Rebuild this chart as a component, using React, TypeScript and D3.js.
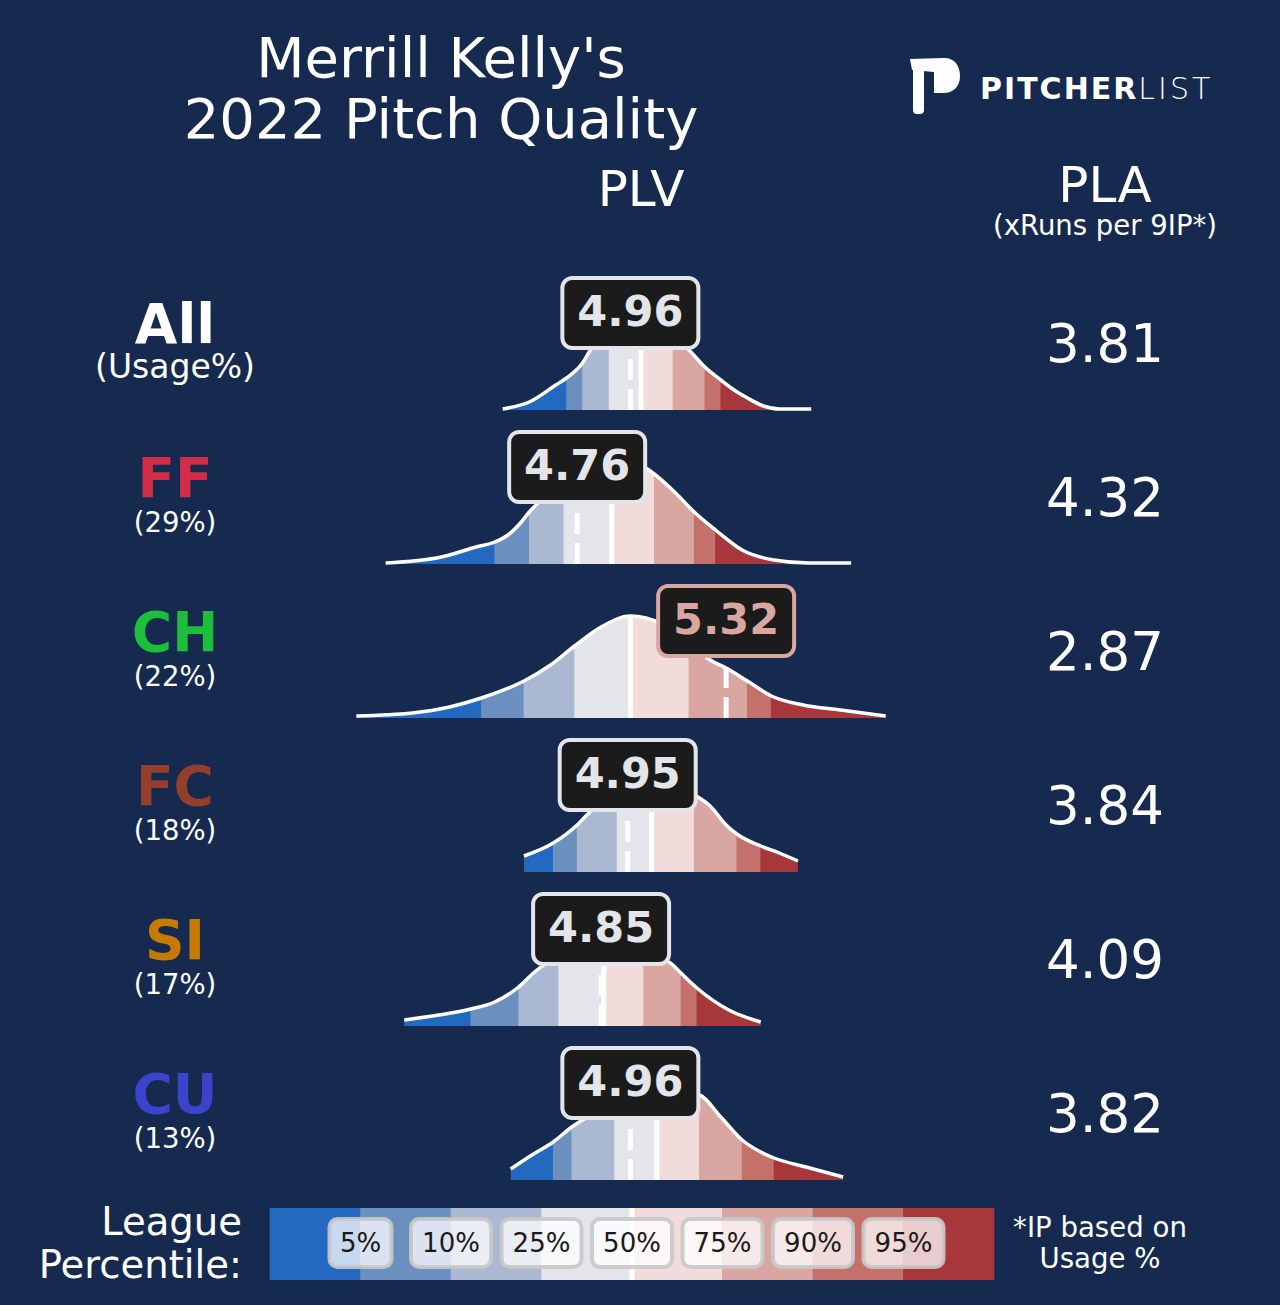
import { useRef, useEffect } from 'react';
import * as d3 from 'd3';

const WIDTH = 1280;
const HEIGHT = 1305;
const BG = '#162a4f';
const FONT = '"DejaVu Sans", Verdana, sans-serif';

const pitchTypes = ['All', 'FF', 'CH', 'FC', 'SI', 'CU'];
const usageLabels = ['(Usage%)', '(29%)', '(22%)', '(18%)', '(17%)', '(13%)'];
const pitchColors = ['#ffffff', '#d22d49', '#1dbe3a', '#933f2c', '#c57a02', '#3c44cd'];
const plvValues = [4.96, 4.76, 5.32, 4.95, 4.85, 4.96];
const plaValues = [3.81, 4.32, 2.87, 3.84, 4.09, 3.82];

const percentileLabels = ['5%', '10%', '25%', '50%', '75%', '90%', '95%'];
const bandColors = ['#2469c0', '#6b90c0', '#aab9d1', '#e4e5ea', '#f2dcdb', '#daa6a2', '#c4716c', '#a8373b'];

// league PLV at the 5/10/25/50/75/90/95th percentiles, per pitch type
const leaguePercentiles: number[][] = [
  [4.72, 4.78, 4.88, 5.0, 5.12, 5.24, 5.3],
  [4.45, 4.58, 4.71, 4.89, 5.05, 5.2, 5.28],
  [4.4, 4.56, 4.75, 4.96, 5.18, 5.4, 5.49],
  [4.67, 4.76, 4.91, 5.04, 5.2, 5.36, 5.45],
  [4.36, 4.54, 4.69, 4.86, 5.01, 5.15, 5.21],
  [4.67, 4.74, 4.9, 5.06, 5.22, 5.38, 5.5],
];

// league density, [PLV, relative height]
const densityAll = [[4.48, 1], [4.58, 8], [4.68, 25], [4.72, 32], [4.78, 47], [4.81, 60], [4.89, 76], [4.98, 84], [5.07, 78], [5.15, 67], [5.18, 60], [5.24, 43], [5.3, 30], [5.35, 20], [5.4, 12], [5.46, 4], [5.52, 1], [5.64, 1]];
const densityFF = [[4.04, 1], [4.25, 7], [4.38, 17], [4.45, 22], [4.5, 29], [4.55, 42], [4.58, 52], [4.62, 63], [4.7, 82], [4.79, 98], [4.88, 107], [4.97, 103], [5.04, 92], [5.13, 71], [5.2, 52], [5.28, 34], [5.38, 14], [5.5, 4], [5.63, 1], [5.79, 1]];
const densityCH = [[3.93, 2], [4.14, 5], [4.28, 11], [4.4, 20], [4.56, 37], [4.66, 53], [4.75, 72], [4.85, 91], [4.96, 102], [5.08, 94], [5.18, 76], [5.26, 58], [5.32, 50], [5.4, 37], [5.49, 22], [5.61, 13], [5.75, 8], [5.92, 2]];
const densityFC = [[4.56, 16], [4.67, 29], [4.76, 47], [4.8, 58], [4.88, 74], [4.98, 84], [5.07, 87], [5.17, 81], [5.22, 74], [5.26, 66], [5.32, 47], [5.36, 38], [5.45, 26], [5.52, 19], [5.59, 11]];
const densitySI = [[4.11, 6], [4.24, 11], [4.36, 17], [4.45, 24], [4.54, 39], [4.6, 54], [4.7, 72], [4.79, 83], [4.87, 86], [4.96, 82], [5.05, 72], [5.12, 61], [5.15, 53], [5.21, 38], [5.33, 16], [5.45, 4]];
const densityCU = [[4.51, 11], [4.59, 25], [4.67, 38], [4.74, 53], [4.78, 60], [4.87, 72], [4.96, 80], [5.05, 86], [5.15, 88], [5.22, 85], [5.3, 63], [5.38, 40], [5.45, 28], [5.5, 22], [5.62, 13], [5.76, 3]];
const densities = [densityAll, densityFF, densityCH, densityFC, densitySI, densityCU];

export default function App() {
  const svgRef = useRef<SVGSVGElement>(null);

  useEffect(() => {
    if (!svgRef.current) return;
    document.body.style.margin = '0';

    const svg = d3.select(svgRef.current);
    svg.selectAll('*').remove();
    svg.append('rect').attr('width', WIDTH).attr('height', HEIGHT).attr('fill', BG);

    const x = d3.scaleLinear().domain([4, 6]).range([375, 907]);
    const rowBase = d3.scaleLinear().domain([0, 1]).range([410, 564]);

    const text = (t: string, px: number, py: number, size: number, opts: any = {}) =>
      svg.append('text')
        .attr('x', px)
        .attr('y', py)
        .attr('text-anchor', opts.anchor || 'middle')
        .attr('font-family', FONT)
        .attr('font-size', size + 'px')
        .attr('font-weight', opts.weight || 'normal')
        .attr('fill', opts.fill || '#ffffff')
        .text(t);

    // Titles
    text("Merrill Kelly's", 441, 77, 56);
    text('2022 Pitch Quality', 441, 138, 56);
    text('PLV', 641, 206, 50);
    text('PLA', 1105, 202, 50);
    text('(xRuns per 9IP*)', 1105, 235, 27.5);

    // Logo
    svg.append('rect').attr('x', 913).attr('y', 64).attr('width', 11).attr('height', 50).attr('rx', 4).attr('fill', '#ffffff');
    svg.append('path')
      .attr('d', 'M910,59 L944,58 C955,58 960,66 960,76 C960,87 953,93 943,93 L934,93 L934,72 L912,70 Z')
      .attr('fill', '#ffffff');
    const logo = svg.append('text')
      .attr('x', 980)
      .attr('y', 99)
      .attr('font-family', FONT)
      .attr('font-size', '30px')
      .attr('fill', '#ffffff');
    logo.append('tspan').attr('font-weight', 'bold').attr('letter-spacing', 2).text('PITCHER');
    logo.append('tspan').attr('font-weight', 200).attr('letter-spacing', 3).text('LIST');

    const defs = svg.append('defs');

    pitchTypes.forEach((pitch, i) => {
      const base = rowBase(i);
      const dens = densities[i];
      const pct = leaguePercentiles[i];
      const y = d3.scaleLinear().domain([0, 100]).range([base, base - 100]);

      const area = d3.area<number[]>()
        .x((d) => x(d[0]))
        .y0(base)
        .y1((d) => y(d[1]))
        .curve(d3.curveMonotoneX);
      const line = d3.line<number[]>()
        .x((d) => x(d[0]))
        .y((d) => y(d[1]))
        .curve(d3.curveMonotoneX);

      defs.append('clipPath').attr('id', 'dens-' + i).append('path').attr('d', area(dens as any));

      const g = svg.append('g');
      const clipped = g.append('g').attr('clip-path', 'url(#dens-' + i + ')');

      const edges = [dens[0][0], ...pct, dens[dens.length - 1][0]];
      bandColors.forEach((c, b) => {
        clipped.append('rect')
          .attr('x', x(edges[b]) - 0.3)
          .attr('y', base - 160)
          .attr('width', x(edges[b + 1]) - x(edges[b]) + 0.6)
          .attr('height', 162)
          .attr('fill', c);
      });

      // league median
      clipped.append('line')
        .attr('x1', x(pct[3])).attr('x2', x(pct[3]))
        .attr('y1', base).attr('y2', base - 160)
        .attr('stroke', '#ffffff').attr('stroke-width', 5);

      // pitcher value
      clipped.append('line')
        .attr('x1', x(plvValues[i])).attr('x2', x(plvValues[i]))
        .attr('y1', base).attr('y2', base - 160)
        .attr('stroke', '#ffffff').attr('stroke-width', 5)
        .attr('stroke-dasharray', '21 9');

      g.append('path')
        .attr('d', line(dens as any))
        .attr('fill', 'none')
        .attr('stroke', '#ffffff')
        .attr('stroke-width', 3.5);

      // value box
      const boxColor = bandColors[d3.bisect(pct, plvValues[i])];
      g.append('rect')
        .attr('x', x(plvValues[i]) - 68)
        .attr('y', base - 132)
        .attr('width', 136)
        .attr('height', 70)
        .attr('rx', 10)
        .attr('fill', '#1b1b1b')
        .attr('stroke', boxColor)
        .attr('stroke-width', 4);
      text(plvValues[i].toFixed(2), x(plvValues[i]), base - 84, 43, { weight: 'bold', fill: boxColor });

      // pitch label
      text(pitch, 175, base - 67, 55, { weight: 'bold', fill: pitchColors[i] });
      text(usageLabels[i], 175, base - 32, i === 0 ? 33 : 27.5);

      // PLA
      text(plaValues[i].toFixed(2), 1105, base - 48, 53);
    });

    // Legend
    const lx = d3.scaleLinear().domain([0, bandColors.length]).range([270, 994]);
    bandColors.forEach((c, b) => {
      svg.append('rect')
        .attr('x', lx(b) - 0.3)
        .attr('y', 1208)
        .attr('width', lx(b + 1) - lx(b) + 0.6)
        .attr('height', 72)
        .attr('fill', c);
    });
    svg.append('line')
      .attr('x1', lx(4)).attr('x2', lx(4))
      .attr('y1', 1208).attr('y2', 1280)
      .attr('stroke', '#ffffff').attr('stroke-width', 5);

    percentileLabels.forEach((label, k) => {
      const cx = lx(k + 1);
      const w = label.length < 3 ? 62 : 80;
      svg.append('rect')
        .attr('x', cx - w / 2)
        .attr('y', 1219)
        .attr('width', w)
        .attr('height', 48)
        .attr('rx', 8)
        .attr('fill', 'rgba(255,255,255,0.75)')
        .attr('stroke', 'rgba(200,200,200,0.9)')
        .attr('stroke-width', 4);
      text(label, cx, 1252, 26, { fill: '#1a1a1a' });
    });

    text('League', 242, 1235, 38.6, { anchor: 'end' });
    text('Percentile:', 242, 1278, 38.6, { anchor: 'end' });
    text('*IP based on', 1100, 1237, 27.6);
    text('Usage %', 1100, 1268, 27.6);
  }, []);

  return <svg ref={svgRef} width={WIDTH} height={HEIGHT} viewBox={'0 0 ' + WIDTH + ' ' + HEIGHT} style={{ display: 'block' }} />;
}
